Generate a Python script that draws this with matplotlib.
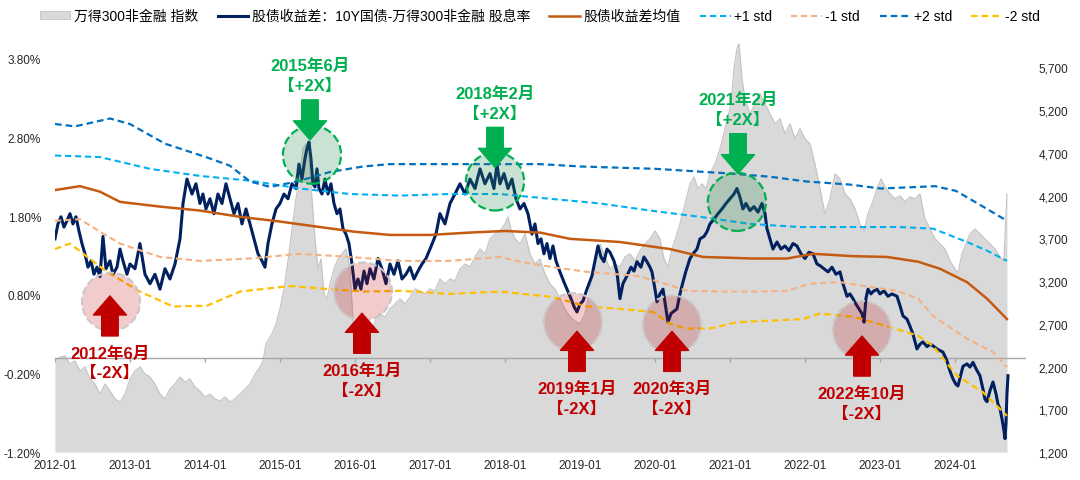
import numpy as np
import matplotlib
matplotlib.use('Agg')
import matplotlib.pyplot as plt
from matplotlib.patches import Patch
from matplotlib.lines import Line2D
from matplotlib.ticker import FuncFormatter
from matplotlib.transforms import offset_copy

# ---- data (time as fractional years after 2012-01) ----
# 万得300非金融 指数 (right axis)
idx_t = 2012 + np.array([
    0.000, 0.067, 0.133, 0.200, 0.267, 0.333, 0.400, 0.467, 0.533, 0.600, 0.667, 0.733, 0.800, 0.867, 0.933,
    1.000, 1.067, 1.133, 1.200, 1.267, 1.333, 1.400, 1.467, 1.533, 1.600, 1.667, 1.733, 1.800, 1.867, 1.933,
    2.000, 2.067, 2.133, 2.200, 2.267, 2.333, 2.400, 2.467, 2.533, 2.600, 2.667, 2.733, 2.773, 2.813, 2.853, 2.893, 2.947,
    3.000, 3.053, 3.107, 3.160, 3.213, 3.267, 3.307, 3.347, 3.387, 3.427, 3.467, 3.507, 3.547, 3.587, 3.627, 3.667,
    3.720, 3.773, 3.827, 3.880, 3.933, 3.973,
    4.013, 4.067, 4.120, 4.173, 4.227, 4.280, 4.333, 4.400, 4.467, 4.533, 4.600, 4.667, 4.733, 4.800, 4.867, 4.933,
    5.000, 5.067, 5.133, 5.200, 5.267, 5.333, 5.400, 5.467, 5.533, 5.600, 5.667, 5.733, 5.800, 5.867, 5.933,
    6.000, 6.040, 6.080, 6.133, 6.200, 6.267, 6.333, 6.400, 6.467, 6.533, 6.600, 6.667, 6.733, 6.800, 6.867, 6.933,
    7.000, 7.067, 7.133, 7.200, 7.267, 7.333, 7.400, 7.467, 7.533, 7.600, 7.667, 7.733, 7.800, 7.867, 7.933,
    8.000, 8.067, 8.120, 8.173, 8.227, 8.280, 8.333, 8.400, 8.467, 8.520, 8.573, 8.627, 8.680, 8.733, 8.800, 8.867, 8.933, 8.973,
    9.013, 9.053, 9.093, 9.120, 9.160, 9.200, 9.267, 9.333, 9.400, 9.467, 9.533, 9.600, 9.667, 9.733, 9.800, 9.867, 9.933,
    10.000, 10.067, 10.133, 10.200, 10.267, 10.333, 10.400, 10.467, 10.533, 10.600, 10.667, 10.733, 10.787, 10.840, 10.893, 10.960,
    11.013, 11.067, 11.133, 11.200, 11.267, 11.333, 11.400, 11.467, 11.533, 11.600, 11.667, 11.733, 11.800, 11.867, 11.933,
    12.000, 12.040, 12.093, 12.147, 12.200, 12.267, 12.333, 12.400, 12.467, 12.533, 12.600, 12.653, 12.680, 12.693])
idx_v = [
    2266, 2312, 2324, 2230, 2266, 2149, 2195, 2055, 1996, 1879, 1996, 1914, 1821, 1786, 1879,
    2055, 2149, 2195, 2113, 2078, 1996, 1879, 1821, 1938, 1996, 2078, 2020, 2055, 1961, 1914,
    1844, 1879, 1821, 1797, 1844, 1786, 1821, 1879, 1938, 1996, 2113, 2195, 2266, 2465, 2523, 2582, 2699,
    2875, 3109, 3437, 3811, 4163, 4455, 4748, 4807, 4631, 4163, 3694, 3343, 3460, 3050, 2992, 3167,
    3343, 3460, 3519, 3577, 3343, 2757,
    2465, 2582, 2640, 2699, 2640, 2757, 2816, 2781, 2875, 2933, 2992, 2933, 3015, 3109, 3085, 3050,
    3109, 3085, 3226, 3167, 3226, 3202, 3343, 3401, 3366, 3483, 3577, 3519, 3694, 3753, 3788,
    3870, 3952, 3811, 3694, 3636, 3753, 3519, 3401, 3460, 3284, 3167, 3109, 2992, 2875, 2781, 2734,
    2699, 2816, 3109, 3437, 3636, 3483, 3343, 3401, 3366, 3483, 3519, 3437, 3554, 3636, 3694,
    3788, 3694, 3460, 3366, 3577, 3718, 3870, 4104, 4338, 4420, 4280, 4338, 4280, 4455, 4572, 4748, 4982, 5123,
    5275, 5685, 5919, 5978, 5568, 5334, 5158, 5275, 5392, 5275, 5158, 5041, 5099, 4924, 5041, 4865, 4982,
    4865, 4807, 4572, 4280, 3987, 4163, 4455, 4397, 4221, 4163, 4046, 3870, 3788, 3987, 4104, 4280,
    4397, 4303, 4221, 4163, 4198, 4128, 4186, 4163, 4221, 3928, 3811, 3694, 3636, 3577, 3437,
    3343, 3296, 3519, 3636, 3753, 3811, 3753, 3694, 3636, 3577, 3483, 3437, 3987, 4221]

# 股债收益差 (%, left axis)
spr_t = 2012 + np.array([
    0.000, 0.040, 0.080, 0.120, 0.160, 0.200, 0.240, 0.280, 0.320, 0.360, 0.400, 0.440, 0.480, 0.520, 0.560, 0.600,
    0.640, 0.680, 0.733, 0.773, 0.827, 0.867, 0.907, 0.960,
    1.000, 1.067, 1.133, 1.200, 1.267, 1.333, 1.400, 1.467, 1.533, 1.600, 1.667, 1.707, 1.760, 1.827, 1.880, 1.933, 1.973,
    2.013, 2.067, 2.120, 2.173, 2.227, 2.280, 2.333, 2.387, 2.440, 2.493, 2.547, 2.600, 2.653, 2.707, 2.760, 2.800,
    2.840, 2.893, 2.947,
    3.000, 3.053, 3.107, 3.160, 3.213, 3.253, 3.293, 3.333, 3.360, 3.387, 3.413, 3.440, 3.467, 3.493, 3.520, 3.560,
    3.600, 3.640, 3.680, 3.720, 3.760, 3.800, 3.840, 3.880, 3.920, 3.960,
    4.000, 4.040, 4.080, 4.120, 4.160, 4.200, 4.253, 4.307, 4.360, 4.413, 4.467, 4.520, 4.573, 4.627, 4.680, 4.733,
    4.787, 4.840, 4.893, 4.947,
    5.013, 5.080, 5.133, 5.200, 5.267, 5.333, 5.400, 5.467, 5.533, 5.600, 5.667, 5.733, 5.800, 5.853, 5.893, 5.933, 5.987,
    6.040, 6.093, 6.147, 6.200, 6.253, 6.307, 6.360, 6.400, 6.440, 6.480, 6.520, 6.560, 6.600, 6.640, 6.680, 6.733,
    6.787, 6.827, 6.880, 6.920, 6.960,
    7.000, 7.040, 7.093, 7.160, 7.200, 7.240, 7.280, 7.320, 7.360, 7.400, 7.453, 7.493, 7.533, 7.573, 7.627, 7.680,
    7.720, 7.760, 7.813, 7.853, 7.893, 7.933, 7.960,
    8.000, 8.027, 8.067, 8.107, 8.147, 8.173, 8.213, 8.253, 8.293, 8.333, 8.373, 8.413, 8.467, 8.507, 8.560, 8.600,
    8.653, 8.693, 8.733, 8.787, 8.840, 8.893, 8.947,
    9.000, 9.053, 9.093, 9.133, 9.173, 9.213, 9.267, 9.320, 9.373, 9.427, 9.467, 9.493, 9.533, 9.573, 9.627, 9.680,
    9.733, 9.787, 9.840, 9.893, 9.947,
    10.000, 10.053, 10.107, 10.160, 10.200, 10.253, 10.307, 10.360, 10.413, 10.467, 10.507, 10.560, 10.600, 10.640,
    10.680, 10.720, 10.760, 10.787, 10.813, 10.840, 10.880, 10.907, 10.960,
    11.000, 11.053, 11.107, 11.160, 11.227, 11.267, 11.307, 11.360, 11.400, 11.440, 11.493, 11.533, 11.573, 11.627,
    11.667, 11.707, 11.760, 11.800, 11.840, 11.893, 11.933, 11.973,
    12.013, 12.040, 12.080, 12.107, 12.160, 12.200, 12.240, 12.280, 12.333, 12.373, 12.400, 12.427, 12.467, 12.507,
    12.547, 12.573, 12.600, 12.627, 12.653, 12.667, 12.680, 12.693, 12.707])
spr_v = [
    1.51, 1.70, 1.79, 1.66, 1.74, 1.83, 1.70, 1.79, 1.61, 1.45, 1.32, 1.15, 1.23, 1.06, 1.15, 1.03,
    1.54, 1.13, 1.23, 1.06, 1.15, 1.38, 1.23, 1.06,
    1.19, 1.13, 1.45, 1.06, 0.94, 1.06, 0.87, 1.13, 1.00, 1.19, 1.51, 1.96, 2.27, 2.08, 2.21, 1.96, 2.08,
    1.89, 2.02, 1.83, 2.08, 1.96, 2.21, 2.02, 1.83, 1.96, 1.70, 1.89, 1.70, 1.51, 1.32, 1.23, 1.15,
    1.45, 1.70, 1.89,
    1.96, 2.08, 2.02, 2.21, 2.15, 2.46, 2.27, 2.53, 2.66, 2.74, 2.53, 2.21, 2.17, 2.40, 2.15, 2.08,
    2.27, 2.08, 2.21, 1.96, 1.83, 1.89, 1.64, 1.57, 1.45, 1.19,
    0.87, 1.00, 0.87, 1.10, 0.94, 1.13, 1.00, 1.26, 1.13, 0.94, 1.19, 1.06, 1.23, 1.00, 1.06, 1.15,
    1.00, 1.10, 1.19, 1.26,
    1.41, 1.57, 1.83, 1.70, 1.96, 2.08, 2.21, 2.08, 2.27, 2.15, 2.40, 2.21, 2.34, 2.15, 2.46, 2.21, 2.34,
    2.15, 2.27, 2.02, 1.89, 1.96, 1.83, 1.57, 1.70, 1.45, 1.51, 1.32, 1.45, 1.26, 1.42, 1.23, 1.09,
    0.96, 0.87, 0.75, 0.65, 0.58,
    0.68, 0.72, 0.87, 1.04, 1.23, 1.42, 1.28, 1.22, 1.38, 1.34, 1.23, 1.09, 0.75, 0.94, 1.04, 1.15,
    1.10, 1.22, 1.15, 1.28, 1.22, 1.15, 1.09,
    0.87, 0.71, 0.81, 0.87, 0.62, 0.45, 0.56, 0.59, 0.62, 0.81, 0.96, 1.10, 1.26, 1.32, 1.38, 1.51,
    1.54, 1.60, 1.70, 1.76, 1.83, 1.89, 1.96,
    2.02, 2.08, 2.15, 2.04, 1.89, 1.96, 1.87, 1.92, 1.85, 1.96, 1.83, 1.64, 1.51, 1.38, 1.47, 1.38,
    1.42, 1.36, 1.45, 1.42, 1.32,
    1.26, 1.34, 1.32, 1.19, 1.17, 1.13, 1.09, 1.15, 1.06, 1.09, 0.94, 0.78, 0.81, 0.75,
    0.68, 0.62, 0.56, 0.45, 0.75, 0.87, 0.81, 0.84, 0.87,
    0.81, 0.85, 0.78, 0.81, 0.78, 0.66, 0.53, 0.49, 0.40, 0.30, 0.11, 0.17, 0.20, 0.14,
    0.17, 0.15, 0.11, 0.09, 0.07, -0.04, -0.17, -0.27,
    -0.34, -0.36, -0.21, -0.11, -0.08, -0.12, -0.06, -0.14, -0.23, -0.40, -0.53, -0.56, -0.42, -0.31,
    -0.46, -0.59, -0.65, -0.78, -0.93, -1.03, -0.84, -0.46, -0.23]

# 股债收益差均值 and std bands (%)
mean_t = 2012 + np.array([0, 0.333, 0.6, 0.867, 1.4, 1.933, 2.467, 3.0, 3.533, 4.0, 4.467, 5.0, 5.533, 6.0, 6.467,
                          6.867, 7.533, 8.2, 8.64, 9.307, 9.76, 10.107, 10.64, 11.093, 11.507, 11.8, 12.16, 12.427, 12.693])
mean_v = [2.13, 2.18, 2.11, 1.98, 1.92, 1.87, 1.79, 1.73, 1.66, 1.60, 1.56, 1.56, 1.59, 1.61, 1.59,
          1.51, 1.47, 1.38, 1.28, 1.26, 1.26, 1.32, 1.29, 1.28, 1.22, 1.13, 0.96, 0.75, 0.49]

p1_t = 2012 + np.array([0, 0.6, 0.867, 1.267, 1.933, 2.6, 3.267, 3.933, 4.6, 5.267, 5.933, 6.6, 7.267, 7.933, 8.6,
                        9.267, 9.933, 10.6, 11.267, 11.707, 12.16, 12.427, 12.693])
p1_v = [2.57, 2.55, 2.49, 2.40, 2.31, 2.25, 2.15, 2.08, 2.06, 2.08, 2.08, 2.02, 1.96, 1.87, 1.79,
        1.70, 1.66, 1.66, 1.66, 1.64, 1.47, 1.36, 1.23]

m1_t = 2012 + np.array([0, 0.333, 0.6, 0.867, 1.4, 1.933, 2.6, 3.267, 3.933, 4.6, 5.267, 5.933, 6.2, 6.64, 7.093,
                        7.76, 8.067, 8.427, 8.867, 9.307, 9.76, 10.067, 10.467, 10.867, 11.227, 11.507, 11.707,
                        12.16, 12.507, 12.693])
m1_v = [1.74, 1.76, 1.60, 1.45, 1.28, 1.23, 1.26, 1.32, 1.28, 1.23, 1.23, 1.28, 1.22, 1.15, 1.09,
        1.04, 0.96, 0.85, 0.84, 0.84, 0.85, 0.94, 0.96, 0.90, 0.85, 0.75, 0.53, 0.24, 0.07, -0.12]

p2_t = 2012 + np.array([0, 0.267, 0.733, 1.0, 1.467, 2.013, 2.333, 2.6, 2.867, 3.227, 3.667, 4.107, 4.467, 4.827,
                        5.533, 6.013, 6.467, 7.013, 8.013, 9.013, 9.533, 10.013, 10.6, 11.013, 11.507, 11.733,
                        12.013, 12.267, 12.533, 12.693])
p2_v = [2.97, 2.94, 3.04, 2.97, 2.72, 2.55, 2.44, 2.24, 2.17, 2.24, 2.36, 2.43, 2.46, 2.46,
        2.46, 2.46, 2.46, 2.43, 2.40, 2.34, 2.30, 2.24, 2.20, 2.15, 2.17, 2.18, 2.12, 1.98, 1.83, 1.74]

m2_t = 2012 + np.array([0, 0.2, 0.693, 1.133, 1.573, 2.027, 2.467, 3.133, 3.667, 4.133, 4.6, 5.267, 5.933, 6.64,
                        7.093, 7.533, 7.973, 8.2, 8.427, 8.733, 9.093, 9.533, 9.973, 10.2, 10.64, 11.093, 11.507,
                        11.707, 12.027, 12.373, 12.693])
m2_v = [1.38, 1.45, 1.09, 0.84, 0.65, 0.66, 0.84, 0.91, 0.87, 0.84, 0.85, 0.81, 0.84, 0.77,
        0.65, 0.62, 0.58, 0.43, 0.37, 0.37, 0.45, 0.47, 0.49, 0.56, 0.52, 0.40, 0.28, 0.15, -0.23, -0.44, -0.74]

# signal annotations
ann_text = ['2012年6月\n【-2X】', '2015年6月\n【+2X】', '2016年1月\n【-2X】', '2018年2月\n【+2X】',
            '2019年1月\n【-2X】', '2020年3月\n【-2X】', '2021年2月\n【+2X】', '2022年10月\n【-2X】']
ann_high = [False, True, False, True, False, False, True, False]
ann_t = [2012.747, 2015.427, 2016.107, 2017.867, 2018.907, 2020.227, 2021.093, 2022.760]
ann_v = [0.71, 2.58, 0.84, 2.24, 0.45, 0.42, 1.98, 0.35]
lab_t = [2012.733, 2015.400, 2016.093, 2017.867, 2018.960, 2020.227, 2021.107, 2022.760]
lab_v = [0.06, 3.71, -0.16, 3.36, -0.39, -0.39, 3.28, -0.45]

years = list(range(2012, 2025))
year_labels = [f'{y}-01' for y in years]

# ---- plot ----
plt.rcParams['font.family'] = ['Liberation Sans', 'Noto Sans CJK SC']

fig = plt.figure(figsize=(10.8, 4.81), dpi=100)
ax = fig.add_axes([0.0509, 0.0582, 0.8991, 0.8503])
ax2 = ax.twinx()

GREY = '#D9D9D9'
NAVY = '#002060'
BROWN = '#C55A11'
C_P1 = '#00B0F0'
C_M1 = '#F4B183'
C_P2 = '#0070C0'
C_M2 = '#FFC000'
RED = '#C00000'
GREEN = '#00B050'

# index area on the right-hand scale
ax.fill_between(idx_t, idx_v, 1200, color=GREY, lw=0)
ax.plot(idx_t, idx_v, color='#C3C3C3', lw=0.8)
ax.set_ylim(1200, 5985)
ax.set_yticks(range(1200, 5701, 500))
ax.yaxis.set_major_formatter(FuncFormatter(lambda v, p: f'{v:,.0f}'))
ax.yaxis.tick_right()
ax.set_xlim(2012.0, 2024.947)
ax.set_xticks(years)
ax.set_xticklabels(year_labels)
ax.tick_params(axis='x', length=0, pad=5, labelsize=8.5, colors='#262626')
ax.tick_params(axis='y', length=0, pad=9, labelsize=8.5, colors='#262626')

ax2.set_ylim(-1.2, 4.0)
ax2.set_yticks(np.arange(-1.2, 3.81, 1.0))
ax2.yaxis.set_major_formatter(FuncFormatter(lambda v, p: f'{v:.2f}%'))
ax2.yaxis.tick_left()
ax2.tick_params(axis='y', length=0, pad=10, labelsize=8.5, colors='#262626')

for a in (ax, ax2):
    for s in a.spines.values():
        s.set_visible(False)

# zero line with small year ticks
ax2.axhline(0, color='#A6A6A6', lw=1, zorder=1)
ax2.vlines(years, -0.06, 0, color='#A6A6A6', lw=1, zorder=1)

dash = (0, (3, 1.8))
ax2.plot(spr_t, spr_v, color=NAVY, lw=2.2, zorder=2)
ax2.plot(mean_t, mean_v, color=BROWN, lw=1.8, zorder=3)
ax2.plot(p1_t, p1_v, color=C_P1, lw=1.5, ls=dash, zorder=3)
ax2.plot(m1_t, m1_v, color=C_M1, lw=1.5, ls=dash, zorder=3)
ax2.plot(p2_t, p2_v, color=C_P2, lw=1.6, ls=dash, zorder=3)
ax2.plot(m2_t, m2_v, color=C_M2, lw=1.6, ls=dash, zorder=3)

# circles
hi = np.array(ann_high)
ct = np.array(ann_t)
cv = np.array(ann_v)
ax2.scatter(ct[~hi], cv[~hi], s=1750, facecolor=(0.75, 0, 0, 0.2), edgecolor='#C8C8C8',
            linewidths=1.5, linestyle='--', zorder=5)
ax2.scatter(ct[hi], cv[hi], s=1750, facecolor=(0.18, 0.55, 0.34, 0.25), edgecolor=GREEN,
            linewidths=1.6, linestyle='--', zorder=5)

arrow_style = 'simple,head_length=1.37,head_width=2.38,tail_width=1.19'
for txt, high, t, v in zip(ann_text, ann_high, lab_t, lab_v):
    col = GREEN if high else RED
    ax2.text(t, v, txt, transform=offset_copy(ax2.transData, fig=fig, y=-7.2, units='points'),
             ha='center', va='center', fontsize=12, fontweight='bold', color=col,
             linespacing=1.4, zorder=7)
    if high:
        y_tail, y_tip = -24.5, -53.3
    else:
        y_tail, y_tip = 12.2, 41.0
    tr_tail = offset_copy(ax2.transData, fig=fig, y=y_tail, units='points')
    tr_tip = offset_copy(ax2.transData, fig=fig, y=y_tip, units='points')
    ax2.annotate('', xy=(t, v), xycoords=tr_tip, xytext=(t, v), textcoords=tr_tail,
                 arrowprops=dict(arrowstyle=arrow_style, color=col, shrinkA=0, shrinkB=0,
                                 mutation_scale=10), zorder=6)

handles = [
    Patch(facecolor=GREY, edgecolor='#C3C3C3', lw=0.6),
    Line2D([], [], color=NAVY, lw=2.2),
    Line2D([], [], color=BROWN, lw=1.8),
    Line2D([], [], color=C_P1, lw=1.5, ls=dash),
    Line2D([], [], color=C_M1, lw=1.5, ls=dash),
    Line2D([], [], color=C_P2, lw=1.6, ls=dash),
    Line2D([], [], color=C_M2, lw=1.6, ls=dash),
]
labels = ['万得300非金融 指数', '股债收益差：10Y国债-万得300非金融 股息率', '股债收益差均值',
          '+1 std', '-1 std', '+2 std', '-2 std']
fig.legend(handles, labels, loc='upper center', bbox_to_anchor=(0.5, 1.005), ncol=7, frameon=False,
           fontsize=10, handlelength=2.2, handleheight=0.5, handletextpad=0.25, columnspacing=1.4)

fig.savefig('out.png', dpi=100)
